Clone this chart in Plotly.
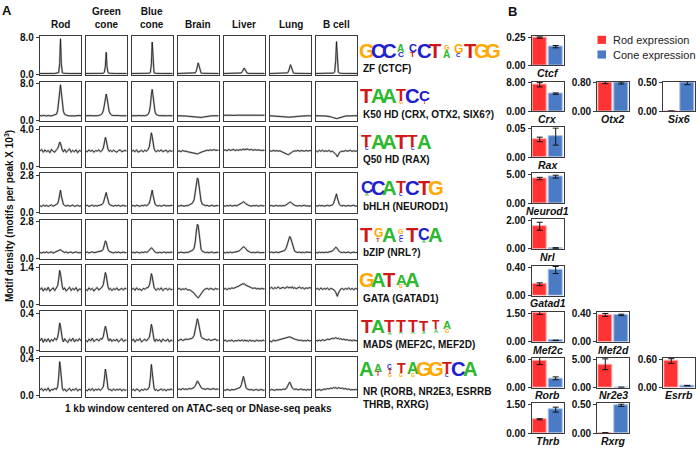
import plotly.graph_objects as go

# ---------------- Panel A data ----------------
CELL_TYPES = ["Rod", "Green<br>cone", "Blue<br>cone", "Brain", "Liver", "Lung", "B cell"]
WINDOW_BP = [-500, -460, -420, -380, -340, -300, -260, -220, -180, -140, -100, -70, -45, -20, 0,
             20, 45, 70, 100, 140, 180, 220, 260, 300, 340, 380, 420, 460, 500]
Y_TOP = [8.0, 8.0, 4.0, 2.8, 2.8, 1.4, 0.4, 0.4]
MOTIF_NAMES = ["ZF (CTCF)", "K50 HD (CRX, OTX2, SIX6?)", "Q50 HD (RAX)", "bHLH (NEUROD1)",
               "bZIP (NRL?)", "GATA (GATAD1)", "MADS (MEF2C, MEF2D)",
               "NR (RORB, NR2E3, ESRRB<br>THRB, RXRG)"]

ZF_CTCF = [
    [0.20,0.22,0.19,0.21,0.20,0.22,0.21,0.20,0.22,0.21,0.23,0.26,0.40,2.4,7.7,2.3,0.38,0.25,0.22,0.21,0.20,0.22,0.20,0.21,0.19,0.21,0.20,0.22,0.20],
    [0.21,0.20,0.22,0.20,0.21,0.19,0.22,0.20,0.21,0.22,0.24,0.28,0.45,1.8,4.8,1.7,0.42,0.27,0.23,0.21,0.22,0.20,0.21,0.22,0.20,0.21,0.19,0.21,0.20],
    [0.20,0.21,0.22,0.20,0.19,0.21,0.20,0.22,0.20,0.21,0.22,0.27,0.42,2.3,7.0,2.2,0.40,0.26,0.22,0.20,0.21,0.20,0.22,0.21,0.20,0.22,0.20,0.21,0.20],
    [0.20,0.21,0.20,0.22,0.20,0.21,0.22,0.20,0.21,0.22,0.25,0.35,0.80,2.0,2.5,1.9,0.75,0.33,0.24,0.22,0.20,0.21,0.22,0.20,0.21,0.20,0.22,0.21,0.20],
    [0.20,0.21,0.20,0.21,0.22,0.20,0.21,0.20,0.22,0.21,0.24,0.32,0.60,1.15,1.4,1.1,0.55,0.30,0.23,0.21,0.20,0.22,0.21,0.20,0.21,0.22,0.20,0.21,0.20],
    [0.20,0.22,0.21,0.20,0.21,0.22,0.20,0.21,0.20,0.22,0.25,0.34,0.75,1.7,2.1,1.65,0.70,0.32,0.24,0.21,0.22,0.20,0.21,0.20,0.22,0.21,0.20,0.22,0.20],
    [0.20,0.21,0.20,0.22,0.21,0.20,0.22,0.21,0.20,0.21,0.24,0.30,0.55,3.0,7.1,2.9,0.50,0.28,0.23,0.21,0.20,0.22,0.20,0.21,0.22,0.20,0.21,0.20,0.21],
]
K50_HD = [
    [1.05,0.98,1.10,1.00,0.95,1.08,1.02,0.97,1.10,1.15,1.35,2.1,3.7,6.3,7.7,6.1,3.5,2.0,1.30,1.10,1.02,0.98,1.06,1.00,0.96,1.05,1.00,1.08,1.02],
    [1.00,1.06,0.97,1.04,1.00,0.96,1.07,1.02,1.08,1.18,1.45,2.1,3.3,5.0,5.7,4.9,3.2,2.0,1.40,1.12,1.05,1.00,0.97,1.05,1.02,0.98,1.06,1.00,1.03],
    [1.02,0.97,1.05,1.00,1.07,0.98,1.02,1.05,0.99,1.10,1.30,1.9,3.2,5.6,6.7,5.4,3.0,1.8,1.25,1.08,1.00,1.04,0.98,1.05,1.00,1.03,0.97,1.04,1.00],
    [1.00,1.02,0.98,1.00,0.97,0.95,0.92,0.88,0.82,0.75,0.68,0.63,0.60,0.57,0.56,0.58,0.60,0.64,0.70,0.78,0.85,0.90,0.94,0.97,0.99,1.00,0.98,1.01,1.00],
    [1.12,1.15,1.10,1.16,1.13,1.10,1.15,1.12,1.10,1.14,1.12,1.10,1.08,1.06,1.05,1.07,1.10,1.12,1.15,1.12,1.14,1.10,1.13,1.16,1.12,1.10,1.14,1.12,1.13],
    [1.00,0.98,1.02,1.00,0.97,0.99,0.96,0.93,0.88,0.82,0.76,0.72,0.70,0.69,0.70,0.71,0.72,0.75,0.80,0.86,0.90,0.94,0.97,0.99,1.00,0.98,1.01,0.99,1.00],
    [1.00,1.02,0.98,1.01,0.99,0.97,0.95,0.92,0.86,0.78,0.65,0.55,0.47,0.42,0.40,0.43,0.50,0.60,0.72,0.82,0.89,0.94,0.97,0.99,1.00,1.02,0.98,1.00,1.01],
]
Q50_HD = [
    [1.60,1.80,1.50,1.75,1.55,1.70,1.45,1.80,1.60,1.50,1.75,1.90,2.20,2.60,2.45,2.00,1.70,1.55,1.80,1.50,1.65,1.85,1.50,1.70,1.55,1.75,1.45,1.70,1.60],
    [1.65,1.55,1.75,1.60,1.70,1.50,1.68,1.62,1.75,1.55,1.70,1.95,2.50,3.10,2.80,2.10,1.80,1.60,1.70,1.55,1.72,1.60,1.50,1.68,1.75,1.55,1.65,1.70,1.60],
    [1.60,1.70,1.55,1.75,1.50,1.65,1.70,1.55,1.72,1.60,1.80,2.10,2.80,3.60,3.20,2.30,1.90,1.65,1.55,1.70,1.60,1.75,1.55,1.65,1.72,1.50,1.68,1.60,1.65],
    [1.60,1.65,1.55,1.70,1.60,1.62,1.55,1.50,1.45,1.40,1.35,1.30,1.28,1.32,1.35,1.40,1.42,1.50,1.55,1.60,1.65,1.72,1.68,1.75,1.70,1.78,1.72,1.75,1.70],
    [1.70,1.75,1.65,1.80,1.70,1.72,1.80,1.68,1.75,1.70,1.78,1.72,1.80,1.85,1.75,1.82,1.78,1.85,1.80,1.75,1.80,1.70,1.78,1.72,1.75,1.70,1.68,1.72,1.70],
    [1.65,1.60,1.70,1.62,1.68,1.60,1.65,1.55,1.45,1.35,1.28,1.25,1.25,1.30,1.35,1.45,1.55,1.60,1.65,1.62,1.70,1.60,1.68,1.65,1.60,1.70,1.62,1.68,1.65],
    [1.65,1.55,1.70,1.60,1.72,1.58,1.65,1.60,1.70,1.55,1.62,1.50,1.45,1.35,1.20,1.00,1.25,1.45,1.55,1.62,1.58,1.70,1.60,1.65,1.70,1.58,1.66,1.60,1.65],
]
BHLH = [
    [0.50,0.44,0.55,0.47,0.53,0.45,0.51,0.56,0.46,0.52,0.57,0.66,0.92,1.45,1.68,1.25,0.82,0.60,0.52,0.47,0.54,0.46,0.50,0.55,0.45,0.51,0.53,0.46,0.50],
    [0.50,0.53,0.45,0.51,0.55,0.46,0.52,0.48,0.51,0.56,0.60,0.72,0.98,1.38,1.50,1.22,0.86,0.63,0.55,0.50,0.46,0.53,0.49,0.54,0.46,0.50,0.53,0.47,0.50],
    [0.48,0.52,0.46,0.54,0.50,0.45,0.53,0.49,0.55,0.50,0.58,0.70,1.00,1.50,1.68,1.30,0.88,0.62,0.53,0.48,0.52,0.46,0.51,0.55,0.47,0.52,0.49,0.53,0.50],
    [0.50,0.47,0.53,0.50,0.46,0.52,0.50,0.55,0.60,0.70,0.95,1.50,2.20,2.60,2.50,2.00,1.30,0.85,0.62,0.55,0.50,0.53,0.47,0.50,0.54,0.46,0.50,0.52,0.49],
    [0.50,0.46,0.52,0.48,0.54,0.47,0.50,0.53,0.49,0.55,0.60,0.66,0.74,0.80,0.78,0.72,0.64,0.58,0.54,0.50,0.47,0.52,0.49,0.53,0.46,0.50,0.52,0.48,0.50],
    [0.49,0.52,0.46,0.50,0.53,0.47,0.51,0.48,0.52,0.50,0.56,0.62,0.70,0.76,0.77,0.72,0.65,0.58,0.53,0.50,0.48,0.52,0.47,0.51,0.53,0.48,0.50,0.46,0.50],
    [0.50,0.47,0.53,0.49,0.52,0.46,0.50,0.54,0.48,0.51,0.56,0.68,0.95,1.30,1.40,1.10,0.78,0.60,0.52,0.49,0.53,0.47,0.50,0.52,0.48,0.50,0.54,0.47,0.50],
]
BZIP = [
    [0.47,0.42,0.50,0.45,0.52,0.44,0.48,0.51,0.43,0.49,0.53,0.58,0.65,0.70,0.68,0.62,0.55,0.50,0.46,0.51,0.44,0.48,0.50,0.43,0.49,0.52,0.45,0.48,0.46],
    [0.47,0.50,0.44,0.49,0.52,0.45,0.48,0.46,0.50,0.53,0.60,0.75,1.05,1.35,1.25,0.98,0.70,0.56,0.50,0.47,0.44,0.50,0.46,0.51,0.44,0.48,0.50,0.45,0.47],
    [0.46,0.49,0.44,0.50,0.47,0.43,0.50,0.46,0.52,0.48,0.55,0.64,0.76,0.82,0.78,0.68,0.58,0.50,0.47,0.44,0.49,0.45,0.48,0.51,0.44,0.49,0.46,0.50,0.47],
    [0.47,0.45,0.50,0.46,0.44,0.49,0.47,0.52,0.55,0.62,0.80,1.30,2.10,2.60,2.50,1.90,1.15,0.72,0.56,0.50,0.46,0.49,0.45,0.48,0.50,0.44,0.47,0.49,0.46],
    [0.47,0.44,0.49,0.46,0.50,0.45,0.48,0.50,0.52,0.56,0.64,0.76,0.86,0.90,0.88,0.84,0.74,0.62,0.55,0.50,0.46,0.49,0.45,0.48,0.50,0.45,0.47,0.49,0.47],
    [0.47,0.50,0.45,0.48,0.51,0.46,0.49,0.52,0.55,0.62,0.85,1.20,1.55,1.68,1.60,1.38,1.00,0.72,0.57,0.50,0.47,0.50,0.45,0.49,0.46,0.50,0.48,0.45,0.47],
    [0.47,0.44,0.50,0.46,0.49,0.45,0.50,0.47,0.51,0.53,0.58,0.68,0.80,0.86,0.84,0.74,0.62,0.54,0.49,0.46,0.50,0.45,0.48,0.50,0.44,0.48,0.50,0.46,0.47],
]
GATA = [
    [0.55,0.62,0.50,0.60,0.53,0.64,0.50,0.58,0.62,0.52,0.60,0.70,0.95,1.28,1.15,0.85,0.65,0.55,0.62,0.50,0.58,0.64,0.52,0.60,0.55,0.63,0.50,0.58,0.56],
    [0.57,0.52,0.62,0.55,0.60,0.50,0.58,0.63,0.54,0.60,0.65,0.75,0.98,1.20,1.10,0.85,0.66,0.56,0.60,0.52,0.59,0.55,0.62,0.53,0.58,0.60,0.54,0.61,0.57],
    [0.56,0.60,0.53,0.62,0.55,0.58,0.52,0.60,0.57,0.62,0.63,0.72,0.90,1.16,1.05,0.82,0.64,0.57,0.53,0.60,0.55,0.62,0.52,0.58,0.60,0.54,0.60,0.55,0.57],
    [0.57,0.60,0.55,0.58,0.56,0.60,0.54,0.55,0.52,0.48,0.42,0.35,0.30,0.25,0.24,0.28,0.34,0.42,0.50,0.55,0.58,0.60,0.56,0.60,0.58,0.55,0.60,0.57,0.58],
    [0.57,0.60,0.55,0.60,0.58,0.62,0.60,0.64,0.66,0.68,0.72,0.74,0.77,0.76,0.78,0.74,0.72,0.70,0.66,0.64,0.62,0.60,0.62,0.58,0.60,0.57,0.60,0.58,0.59],
    [0.60,0.64,0.58,0.63,0.60,0.66,0.59,0.62,0.64,0.60,0.63,0.66,0.62,0.65,0.64,0.62,0.66,0.60,0.63,0.59,0.62,0.65,0.60,0.63,0.58,0.62,0.60,0.63,0.61],
    [0.57,0.60,0.55,0.62,0.56,0.60,0.57,0.61,0.55,0.60,0.58,0.56,0.52,0.45,0.38,0.30,0.42,0.52,0.57,0.60,0.55,0.60,0.57,0.62,0.56,0.60,0.55,0.60,0.58],
]
MADS = [
    [0.100,0.130,0.085,0.120,0.095,0.125,0.090,0.115,0.100,0.130,0.110,0.140,0.200,0.295,0.260,0.170,0.120,0.090,0.125,0.100,0.085,0.120,0.100,0.130,0.090,0.115,0.100,0.125,0.100],
    [0.110,0.090,0.120,0.100,0.130,0.095,0.110,0.120,0.100,0.125,0.120,0.150,0.210,0.260,0.230,0.160,0.120,0.100,0.125,0.095,0.115,0.100,0.120,0.090,0.110,0.125,0.095,0.110,0.105],
    [0.100,0.120,0.090,0.115,0.105,0.125,0.090,0.110,0.120,0.100,0.120,0.140,0.200,0.280,0.240,0.160,0.110,0.095,0.120,0.100,0.115,0.090,0.120,0.105,0.100,0.120,0.090,0.110,0.100],
    [0.100,0.115,0.120,0.105,0.110,0.120,0.115,0.120,0.125,0.130,0.160,0.220,0.300,0.340,0.310,0.250,0.190,0.150,0.130,0.120,0.115,0.110,0.120,0.105,0.110,0.115,0.120,0.105,0.110],
    [0.100,0.110,0.095,0.105,0.100,0.110,0.095,0.105,0.100,0.110,0.100,0.105,0.110,0.100,0.105,0.110,0.100,0.105,0.095,0.110,0.100,0.105,0.095,0.110,0.100,0.105,0.100,0.110,0.100],
    [0.100,0.090,0.110,0.100,0.105,0.110,0.115,0.120,0.125,0.130,0.135,0.140,0.140,0.145,0.140,0.135,0.130,0.125,0.120,0.115,0.110,0.105,0.110,0.100,0.105,0.100,0.110,0.100,0.105],
    [0.105,0.100,0.110,0.100,0.115,0.105,0.110,0.120,0.115,0.125,0.130,0.125,0.130,0.135,0.130,0.125,0.130,0.120,0.125,0.115,0.120,0.110,0.115,0.105,0.110,0.100,0.110,0.105,0.100],
]
NR = [
    [0.065,0.080,0.055,0.075,0.060,0.085,0.050,0.070,0.065,0.080,0.070,0.100,0.200,0.370,0.300,0.150,0.080,0.060,0.075,0.050,0.070,0.080,0.055,0.070,0.065,0.080,0.055,0.070,0.065],
    [0.065,0.055,0.075,0.060,0.080,0.055,0.070,0.065,0.075,0.060,0.080,0.100,0.180,0.290,0.240,0.130,0.080,0.065,0.070,0.055,0.075,0.060,0.070,0.065,0.075,0.055,0.070,0.060,0.065],
    [0.060,0.070,0.055,0.075,0.065,0.050,0.070,0.060,0.075,0.065,0.075,0.100,0.190,0.340,0.260,0.140,0.080,0.060,0.070,0.055,0.065,0.075,0.060,0.070,0.055,0.070,0.065,0.075,0.060],
    [0.070,0.075,0.065,0.080,0.070,0.075,0.070,0.080,0.075,0.085,0.090,0.110,0.140,0.160,0.150,0.130,0.110,0.090,0.080,0.075,0.070,0.080,0.075,0.070,0.075,0.080,0.070,0.075,0.070],
    [0.065,0.060,0.070,0.065,0.060,0.070,0.065,0.070,0.075,0.080,0.090,0.120,0.170,0.210,0.180,0.120,0.090,0.075,0.070,0.065,0.070,0.060,0.065,0.070,0.060,0.065,0.070,0.060,0.065],
    [0.060,0.070,0.065,0.060,0.070,0.065,0.070,0.065,0.075,0.070,0.080,0.100,0.130,0.150,0.130,0.100,0.085,0.075,0.070,0.075,0.065,0.070,0.075,0.065,0.070,0.060,0.070,0.065,0.070],
    [0.060,0.065,0.070,0.060,0.070,0.075,0.070,0.080,0.075,0.085,0.080,0.090,0.085,0.090,0.085,0.080,0.090,0.085,0.080,0.085,0.075,0.080,0.070,0.075,0.065,0.070,0.065,0.070,0.065],
]
MOTIF_ROWS = [ZF_CTCF, K50_HD, Q50_HD, BHLH, BZIP, GATA, MADS, NR]

# sequence logos: per column, letters top to bottom with relative height
LOGO_ZF = [[("G", 1)], [("C", 1)], [("C", 1)], [("A", .5), ("C", .4)], [("C", .55), ("T", .4)],
           [("C", 1)], [("T", 1)], [("G", .35), ("A", .5)], [("G", .6), ("C", .3)], [("T", 1)],
           [("G", 1)], [("G", 1)]]
LOGO_K50 = [[("T", 1)], [("A", 1)], [("A", 1)], [("T", .8), ("G", .18)], [("C", 1)], [("C", .75), ("T", .22)]]
LOGO_Q50 = [[("T", .85), ("C", .15)], [("A", 1)], [("A", 1)], [("T", 1)], [("T", .85), ("C", .15)], [("A", 1)]]
LOGO_BHLH = [[("C", .85), ("A", .15)], [("C", 1)], [("A", 1)], [("T", .8), ("C", .18)], [("C", 1)], [("T", 1)], [("G", 1)]]
LOGO_BZIP = [[("T", 1)], [("G", .6), ("T", .3)], [("A", 1)], [("G", .35), ("C", .3), ("C", .22)],
             [("T", 1)], [("C", .8), ("A", .18)], [("A", 1)]]
LOGO_GATA = [[("G", 1)], [("A", 1)], [("T", 1)], [("A", .75), ("G", .15)], [("A", 1)]]
LOGO_MADS = [[("T", .95)], [("A", .95)], [("T", .85), ("A", .12)], [("T", .8), ("A", .15)], [("T", .8), ("A", .15)],
             [("T", .75), ("A", .15)], [("T", .6), ("A", .28)], [("A", .55), ("G", .28)]]
LOGO_NR = [[("A", 1)], [("A", .55), ("T", .32)], [("C", .32), ("T", .32), ("G", .18)], [("T", .7), ("G", .22)],
           [("A", .8), ("G", .15)], [("G", 1)], [("G", 1)], [("T", .8), ("C", .15)], [("C", 1)], [("A", 1)]]
LOGOS = [LOGO_ZF, LOGO_K50, LOGO_Q50, LOGO_BHLH, LOGO_BZIP, LOGO_GATA, LOGO_MADS, LOGO_NR]

# ---------------- Panel B data ----------------
GENES = ["Ctcf", "Crx", "Otx2", "Six6", "Rax", "Neurod1", "Nrl", "Gatad1", "Mef2c", "Mef2d",
         "Rorb", "Nr2e3", "Esrrb", "Thrb", "Rxrg"]
ROD_EXPR = [0.245, 7.5, 0.81, 0.005, 0.031, 4.35, 1.60, 0.16, 1.53, 0.38, 5.6, 4.1, 0.56, 0.73, 0.005]
ROD_SEM = [0.006, 0.6, 0.03, 0.001, 0.004, 0.22, 0.28, 0.02, 0.08, 0.02, 0.75, 0.95, 0.05, 0.03, 0.001]
CONE_EXPR = [0.165, 5.0, 0.80, 0.50, 0.036, 4.7, 0.07, 0.36, 0.08, 0.38, 1.95, 0.05, 0.04, 1.24, 0.49]
CONE_SEM = [0.010, 0.2, 0.03, 0.03, 0.015, 0.25, 0.015, 0.05, 0.01, 0.01, 0.30, 0.01, 0.005, 0.13, 0.02]
GENE_TICK = [0.25, 8.0, 0.80, 0.50, 0.05, 5.0, 2.0, 0.40, 1.50, 0.40, 6.0, 5.0, 0.60, 1.50, 0.50]

# ---------------- layout / style ----------------
W, H = 700, 453
FONT = "Liberation Sans, Arial, sans-serif"
LOGO_FONT = "Liberation Sans Narrow, Liberation Sans, Arial"
BOX = "#3a3a3a"
ROD_RED = "#FF3333"
CONE_BLUE = "#4A7BC4"
BASE_COLORS = {"A": "#2DB82D", "C": "#2020CC", "G": "#FFA800", "T": "#D01818"}

A_COL_LEFT = [40, 85.7, 131.7, 177.7, 223.7, 270, 316]
A_COL_W = 41
A_ROW_TOP = [32.3, 79.3, 126, 173.3, 220.7, 267.3, 314.3, 361]
A_ROW_H = 40.5

B_COL_LEFT = [531.7, 597.3, 663.3]
B_COL_W = 32
B_ROW_TOP = [32.3, 79.3, 126, 173.3, 220, 267.7, 315, 361.7, 408.3]
B_ROW_H = 30.5
GENE_GRID = [(0, 0), (1, 0), (1, 1), (1, 2), (2, 0), (3, 0), (4, 0), (5, 0), (6, 0), (6, 1),
             (7, 0), (7, 1), (7, 2), (8, 0), (8, 1)]

fig = go.Figure()
annotations = []
shapes = []
axes = {}
n_axes = 0


def px(x, y):
    return x / W, 1 - y / H


def new_axes(left, top, width, height, xr, yr, tickvals, ticktext):
    global n_axes
    n_axes += 1
    s = "" if n_axes == 1 else str(n_axes)
    common = dict(showgrid=False, zeroline=False, showline=True, mirror=True,
                  linecolor=BOX, linewidth=1.2, fixedrange=True)
    axes["xaxis" + s] = dict(domain=[left / W, (left + width) / W], range=xr, anchor="y" + s,
                             showticklabels=False, ticks="", **common)
    axes["yaxis" + s] = dict(domain=[1 - (top + height) / H, 1 - top / H], range=yr, anchor="x" + s,
                             tickvals=tickvals, ticktext=ticktext,
                             ticks="outside" if tickvals else "", ticklen=3, tickwidth=1, tickcolor=BOX,
                             tickfont=dict(family=FONT, size=10, color="#111", weight="bold"),
                             **common)
    return "x" + s, "y" + s


def text(x, y, t, size=10, bold=True, italic=False, color="#111", xanchor="center",
         yanchor="middle", angle=0, family=FONT):
    xp, yp = px(x, y)
    annotations.append(dict(x=xp, y=yp, xref="paper", yref="paper", text=t, showarrow=False,
                            xanchor=xanchor, yanchor=yanchor, textangle=angle, align=xanchor,
                            font=dict(family=family, size=size, color=color,
                                      weight="bold" if bold else "normal",
                                      style="italic" if italic else "normal")))


# Panel A: motif density profiles
for r, row in enumerate(MOTIF_ROWS):
    top = Y_TOP[r]
    for c, curve in enumerate(row):
        ticks = [0, top] if c == 0 else []
        xa, ya = new_axes(A_COL_LEFT[c], A_ROW_TOP[r], A_COL_W, A_ROW_H, [-500, 500],
                          [-0.02 * top, 1.05 * top], ticks, ["%.1f" % v for v in ticks])
        fig.add_trace(go.Scatter(x=WINDOW_BP, y=curve, xaxis=xa, yaxis=ya, mode="lines",
                                 line=dict(color="#bdbdbd", width=2.0), hoverinfo="skip"))
        fig.add_trace(go.Scatter(x=WINDOW_BP, y=curve, xaxis=xa, yaxis=ya, mode="lines",
                                 line=dict(color="#111", width=0.8)))

for c, name in enumerate(CELL_TYPES):
    text(A_COL_LEFT[c] + A_COL_W / 2, 29, name, size=10, yanchor="bottom")

text(9, (A_ROW_TOP[0] + A_ROW_TOP[-1] + A_ROW_H) / 2,
     "Motif density (motifs per peak X 10<sup>3</sup>)", size=10, angle=-90)
text(198, 414, "1 kb window centered on ATAC-seq or DNase-seq peaks", size=10)
text(7, 7, "A", size=13)
text(512, 8, "B", size=13)

# sequence logos and motif family labels
PITCH = 11.5
FULL_H = 14.5
for r, logo in enumerate(LOGOS):
    two_line = "<br>" in MOTIF_NAMES[r]
    base = A_ROW_TOP[r] + (19.5 if two_line else 22.5)
    for i, col in enumerate(logo):
        cx = 361 + PITCH * (i + 0.5)
        y = base
        for letter, frac in reversed(col):
            h = FULL_H * frac
            text(cx, y - h / 2, letter, size=max(h / 0.716, 5), color=BASE_COLORS[letter],
                 family=LOGO_FONT)
            y -= h
    if two_line:
        text(361, A_ROW_TOP[r] + 27.5, MOTIF_NAMES[r], size=10, xanchor="left", yanchor="top")
    else:
        text(361, A_ROW_TOP[r] + 33.5, MOTIF_NAMES[r], size=10, xanchor="left")

# Panel B: expression bars
for g, gene in enumerate(GENES):
    rr, cc = GENE_GRID[g]
    left, top = B_COL_LEFT[cc], B_ROW_TOP[rr]
    tick = GENE_TICK[g]
    xa, ya = new_axes(left, top, B_COL_W, B_ROW_H, [-0.5, 1.5], [0, tick * 1.05],
                      [0, tick], ["0.00", "%.2f" % tick])
    fig.add_trace(go.Bar(x=[0, 1], y=[ROD_EXPR[g], CONE_EXPR[g]], xaxis=xa, yaxis=ya, width=0.93,
                         marker=dict(color=[ROD_RED, CONE_BLUE],
                                     line=dict(color=["#ffb0b0", "#a8c2e6"], width=1)),
                         error_y=dict(type="data", array=[ROD_SEM[g], CONE_SEM[g]],
                                      color="#111", thickness=1, width=3)))
    text(left + B_COL_W / 2, top + B_ROW_H + 8, "<b><i>%s</i></b>" % gene, size=10.5)

# legend
for k, (lab, colr) in enumerate([("Rod expression", ROD_RED), ("Cone expression", CONE_BLUE)]):
    y0 = 32.5 + 15 * k
    x0p, y0p = px(597.5, y0)
    x1p, y1p = px(606, y0 + 8.3)
    shapes.append(dict(type="rect", xref="paper", yref="paper", x0=x0p, x1=x1p, y0=y1p, y1=y0p,
                       fillcolor=colr, line=dict(width=0)))
    text(611, y0 + 4.2, lab, size=11, bold=False, xanchor="left", color="#222")

fig.update_layout(width=W, height=H, margin=dict(l=0, r=0, t=0, b=0), showlegend=False,
                  plot_bgcolor="white", paper_bgcolor="white", bargap=0, hovermode=False,
                  annotations=annotations, shapes=shapes, **axes)
# the page body has a default 8px margin; drop it so the figure sits at the window's corner
fig.write_html("out.html", config={"displayModeBar": False},
               post_script="document.body.style.margin='0px';")
